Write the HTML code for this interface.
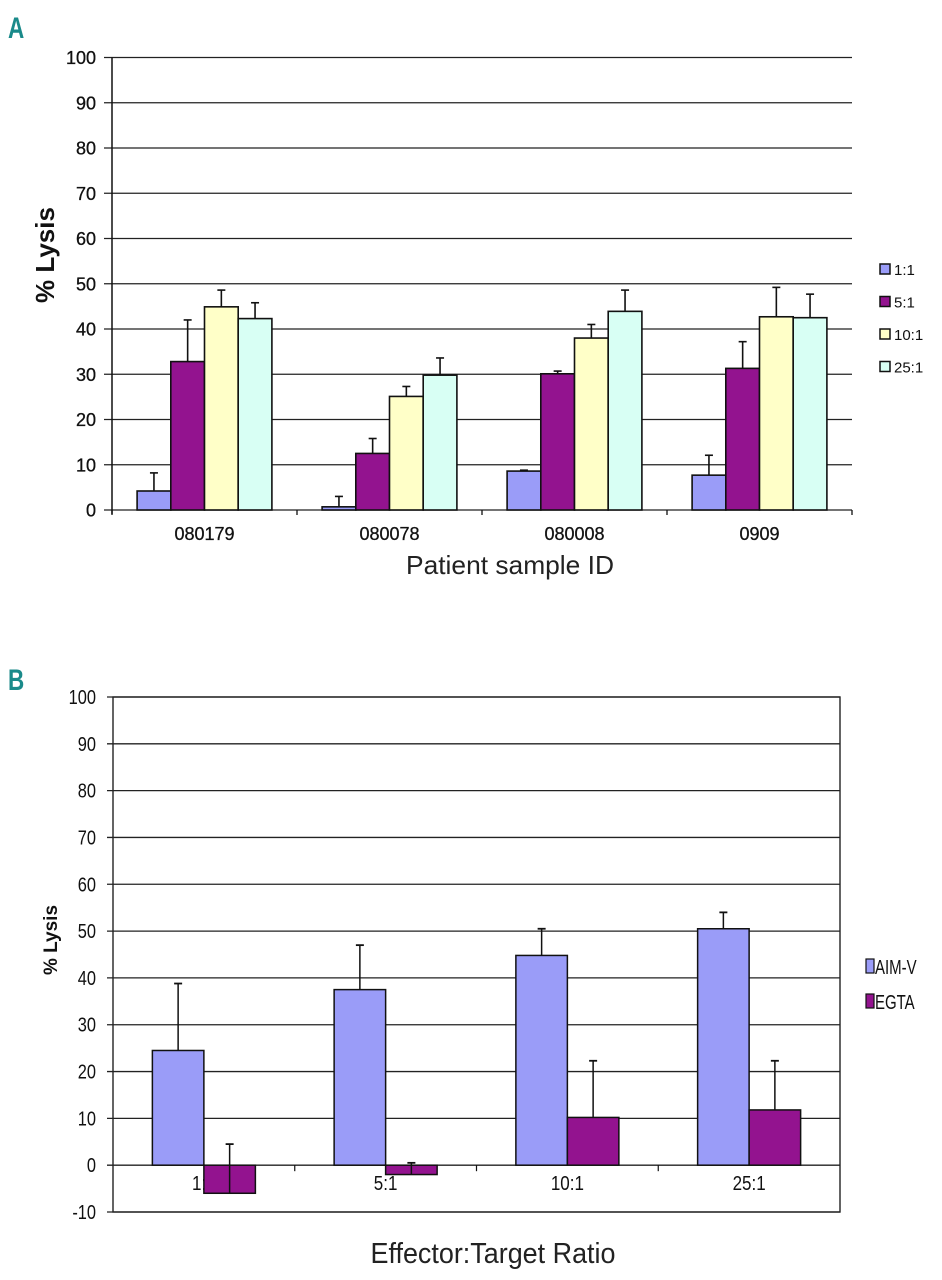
<!DOCTYPE html>
<html><head><meta charset="utf-8"><style>
body{margin:0;background:#fff;width:942px;height:1280px;overflow:hidden}
svg{display:block}
text{font-family:"Liberation Sans",sans-serif}
</style></head><body>
<svg id="svg" width="942" height="1280">
<text x="8" y="38" font-size="30" font-weight="bold" fill="#1a8a8a" transform="translate(8,38) scale(0.75,1) translate(-8,-38)">A</text>
<text x="8" y="690" font-size="30" font-weight="bold" fill="#1a8a8a" transform="translate(8,690) scale(0.75,1) translate(-8,-690)">B</text>
<g id="ga"></g>
<g id="gb"></g>
</svg>
<script>
const catsA=["080179","080078","080008","0909"];
const seriesA=["1:1","5:1","10:1","25:1"];
const v11=[4.2,0.7,8.6,7.7];
const e11=[4.0,2.3,0.2,4.4];
const v51=[32.8,12.5,30.1,31.3];
const e51=[9.2,3.3,0.6,5.9];
const v101=[44.9,25.1,38.0,42.7];
const e101=[3.7,2.2,3.0,6.5];
const v251=[42.3,29.8,43.9,42.5];
const e251=[3.5,3.8,4.7,5.2];
const ticksA=[0,10,20,30,40,50,60,70,80,90,100];

const catsB=["1:1","5:1","10:1","25:1"];
const seriesB=["AIM-V","EGTA"];
const vAIM=[24.5,37.5,44.8,50.5];
const eAIM=[14.3,9.5,5.7,3.5];
const vEGTA=[-6.0,-2.0,10.2,11.8];
const eEGTA=[10.5,2.5,12.1,10.5];
const ticksB=[-10,0,10,20,30,40,50,60,70,80,90,100];

const NS="http://www.w3.org/2000/svg";
function mk(parent,tag,attrs,txt){const e=document.createElementNS(NS,tag);for(const k in attrs)e.setAttribute(k,attrs[k]);if(txt!==undefined)e.textContent=txt;parent.appendChild(e);return e;}

// Panel A
(function(){
const g=document.getElementById('ga');
const L=112,R=852,T=57.5,B=510;
const y=v=>B-(v/100)*(B-T);
const cw=(R-L)/catsA.length, bw=33.7;
const colors=["#9a9cf8","#93138f","#ffffc8","#d8fff4"];
const vals=[v11,v51,v101,v251], errs=[e11,e51,e101,e251];
ticksA.forEach(t=>{
  const l=mk(g,'line',{x1:L-8,x2:R,y1:y(t),y2:y(t),stroke:'#222','stroke-width':1.3});
  
  const tx=mk(g,'text',{x:96,y:y(t)+6.5,'text-anchor':'end','font-size':18,fill:'#111','stroke':'#111','stroke-width':0.3},t);
  
});
mk(g,'line',{x1:L,x2:L,y1:T,y2:B+4,stroke:'#111','stroke-width':1.5});
for(let i=0;i<=catsA.length;i++){mk(g,'line',{x1:L+i*cw,x2:L+i*cw,y1:B,y2:B+5,stroke:'#111','stroke-width':1.3});}
catsA.forEach((c,i)=>{
  const cx=L+cw*(i+0.5);
  vals.forEach((arr,s)=>{
    const x0=cx-2*bw+s*bw, v=arr[i];
    const r=mk(g,'rect',{x:x0,y:y(v),width:bw,height:B-y(v),fill:colors[s],stroke:'#111','stroke-width':1.6});
    
    
    const et=v+errs[s][i], ex=x0+bw/2;
    mk(g,'line',{x1:ex,x2:ex,y1:y(v),y2:y(et),stroke:'#111','stroke-width':1.6});
    mk(g,'line',{x1:ex-4,x2:ex+4,y1:y(et),y2:y(et),stroke:'#111','stroke-width':1.6});
  });
  const t=mk(g,'text',{x:cx,y:540,'text-anchor':'middle','font-size':18,fill:'#111','stroke':'#111','stroke-width':0.3},c);
  
});
seriesA.forEach((s,i)=>{
  const yy=269+i*32.5;
  const r=mk(g,'rect',{x:880,y:yy-5,width:10,height:10,fill:colors[i],stroke:'#111','stroke-width':1.5});
  
  const t=mk(g,'text',{x:894,y:yy+6,'font-size':15,fill:'#111'},s);
  
});
const yt=mk(g,'text',{x:0,y:0,'font-size':26,'font-weight':'bold',fill:'#111','text-anchor':'middle',transform:'translate(54,255) rotate(-90)'},'% Lysis');

const xt=mk(g,'text',{x:510,y:574,'font-size':26,fill:'#222','text-anchor':'middle',textLength:208,lengthAdjust:'spacingAndGlyphs'},'Patient sample ID');

})();

// Panel B
(function(){
const g=document.getElementById('gb');
const L=113,R=840,T=697,B=1212;
const y=v=>B-((v+10)/110)*(B-T);
const cw=(R-L)/catsB.length, bw=51.5;
const colors=["#9a9cf8","#93138f"];
const vals=[vAIM,vEGTA], errs=[eAIM,eEGTA];
ticksB.forEach(t=>{
  const l=mk(g,'line',{x1:L-6,x2:R,y1:y(t),y2:y(t),stroke:'#222','stroke-width':1.3});
  
  const tx=mk(g,'text',{x:96,y:y(t)+7,'text-anchor':'end','font-size':20,fill:'#111',transform:`translate(96,0) scale(0.82,1) translate(-96,0)`},t);
  
});
mk(g,'rect',{x:L,y:T,width:R-L,height:B-T,fill:'none',stroke:'#222','stroke-width':1.4});
for(let i=1;i<catsB.length;i++){mk(g,'line',{x1:L+i*cw,x2:L+i*cw,y1:y(0),y2:y(0)+6,stroke:'#111','stroke-width':1.2});}
catsB.forEach((c,i)=>{
  const cx=L+cw*(i+0.5);
  const t=mk(g,'text',{x:cx,y:1190,'text-anchor':'middle','font-size':20,fill:'#111',transform:`translate(${cx},0) scale(0.85,1) translate(${-cx},0)`},c);
  
  vals.forEach((arr,s)=>{
    const x0=cx-bw+s*bw, v=arr[i];
    const top=Math.min(y(v),y(0)), h=Math.abs(y(v)-y(0));
    const r=mk(g,'rect',{x:x0,y:top,width:bw,height:h,fill:colors[s],stroke:'#111','stroke-width':1.5});
    
    
    const et=v+errs[s][i], ex=x0+bw/2;
    mk(g,'line',{x1:ex,x2:ex,y1:y(v),y2:y(et),stroke:'#111','stroke-width':1.5});
    mk(g,'line',{x1:ex-4,x2:ex+4,y1:y(et),y2:y(et),stroke:'#111','stroke-width':1.8});
  });
});
seriesB.forEach((s,i)=>{
  const yy=966+i*35;
  const r=mk(g,'rect',{x:866,y:yy-7,width:8,height:14,fill:colors[i],stroke:'#111','stroke-width':1.2});
  
  const t=mk(g,'text',{x:875,y:yy+8,'font-size':20,fill:'#111',transform:`translate(875,0) scale(0.75,1) translate(-875,0)`},s);
  
});
const yt=mk(g,'text',{x:0,y:0,'font-size':19,'font-weight':'bold',fill:'#111','text-anchor':'middle',transform:'translate(57,940) rotate(-90)'},'% Lysis');

const xt=mk(g,'text',{x:493,y:1263,'font-size':29,fill:'#222','text-anchor':'middle',textLength:245,lengthAdjust:'spacingAndGlyphs'},'Effector:Target Ratio');

})();
</script>
</body></html>
